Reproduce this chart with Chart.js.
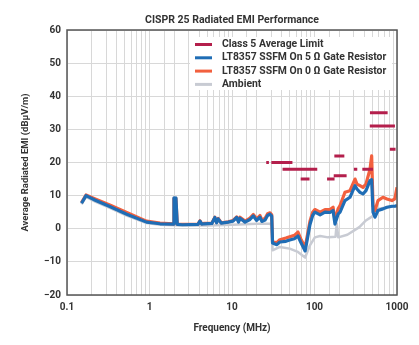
<!DOCTYPE html>
<html>
<head>
<meta charset="utf-8">
<script src="https://cdn.jsdelivr.net/npm/chart.js@4.4.1/dist/chart.umd.min.js"></script>
<style>
  html, body { margin: 0; padding: 0; background: #fff; }
</style>
</head>
<body>
<canvas id="emi" width="419" height="345"></canvas>
<script>
// CISPR 25 radiated EMI (MHz, dBuV/m)
const freqMHz = [0.15, 0.17, 0.22, 0.33, 0.53, 0.92, 1.34, 1.93,
  1.98, 2.04, 2.09, 2.17, 2.5,
  3.87, 4.09, 4.3, 4.6, 5.7,
  6.2, 6.5, 6.8, 7.4, 9.0,
  10.3, 11.4, 12.0, 12.5, 14.4,
  16.5, 18.1, 19.9, 21.8, 23.0,
  25.1, 27.0, 28.9, 30.3, 31.0,
  35, 38, 45, 50, 57,
  63, 68, 77, 82, 88,
  95, 101, 117, 134, 154,
  168, 177, 193, 204, 234,
  269, 310, 327, 356, 387,
  421, 471, 493, 512, 541,
  588, 676, 756, 869, 940,
  1000];

const gate5Ohm = [7.7, 10, 8.6, 6.7, 4.4, 2.0, 1.5, 1.4,
  9.3, 7.5, 9.3, 1.3, 1.2,
  1.3, 2.3, 1.4, 1.5, 1.6,
  3.4, 1.8, 3.0, 1.7, 2.0,
  2.3, 3.4, 2.0, 3.2, 2.0,
  2.8, 3.9, 2.5, 3.5, 2.2,
  2.6, 4.0, 4.4, 3.8, -4.3,
  -4.8, -4.0, -3.8, -3.4, -3.0,
  -2.2, -4.0, -6.7, -3.0, 1.2,
  4.0, 5.0, 4.2, 5.0, 4.9,
  5.5, 1.4, 4.4, 5.0, 8.5,
  9.5, 13.0, 12.0, 11.0, 10.5,
  11.5, 14.5, 14.8, 5.0, 3.5,
  5.5, 6.0, 6.5, 6.8, 6.8,
  7.0];

const gate0Ohm = [7.9, 10.2, 9.0, 7.2, 4.9, 2.3, 1.7, 1.5,
  9.2, 7.5, 9.2, 1.4, 1.3,
  1.4, 2.4, 1.5, 1.6, 1.7,
  3.5, 1.9, 3.1, 1.8, 2.1,
  2.5, 3.6, 2.2, 3.5, 2.3,
  3.2, 4.3, 3.0, 4.0, 2.7,
  3.1, 4.5, 4.8, 4.2, -4.0,
  -4.2, -3.3, -2.8, -2.4, -2.0,
  -1.0, -3.0, -5.6, -2.0, 2.2,
  5.0, 5.8, 5.0, 5.8, 5.8,
  6.5, 2.5, 6.0, 7.0, 11.0,
  11.5, 15.0, 13.5, 13.0, 12.5,
  13.5, 18.0, 22.0, 7.0, 5.5,
  8.5, 9.5, 9.0, 8.5, 9.0,
  12.5];

const ambientFreq = [0.15, 0.17, 0.22, 0.33, 0.53, 0.92, 1.34, 2.5, 5, 10,
  20, 28.9, 30.3, 31.0, 38, 50, 63, 77, 88, 101,
  117, 146, 180, 186, 194, 250, 350, 420, 512, 541,
  588, 756, 1000];
const ambient = [7.4, 9.6, 8.2, 6.3, 4.0, 1.7, 1.2, 1.0, 1.0, 1.2,
  1.5, 1.5, 1.0, -6.5, -5.5, -6.0, -7.0, -8.7, -5.0, -2.6,
  -2.2, -2.6, -2.4, 1.6, -2.6, -1.8, 0.5, 2.5, 3.9, 5.5,
  6.0, 6.5, 6.8];

// Class 5 average limit bands
const limitStart = [26, 30, 41, 68, 142, 171, 174, 300, 380, 468, 470, 820];
const limitStop  = [28, 54, 108, 87, 175, 245, 230, 330, 512, 944, 770, 960];
const limitLevel = [20, 20, 18, 15, 15, 16, 22, 18, 18, 31, 35, 24];

const xTickLabels = [0.1, 1, 10, 100, 1000];

const limitPoints = [];
limitStart.forEach((f, i) => {
  limitPoints.push({ x: f, y: limitLevel[i] });
  limitPoints.push({ x: limitStop[i], y: limitLevel[i] });
  limitPoints.push({ x: limitStop[i], y: null });
});

const zip = (xs, ys) => xs.map((x, i) => ({ x, y: ys[i] }));

const FONT = "Roboto, 'Noto Sans', sans-serif";
const TEXT = "#333";

// white legend box drawn inside the plot area
const legendInside = {
  id: "legendInside",
  beforeDatasetsDraw(chart) {
    const ctx = chart.ctx;
    ctx.save();
    ctx.fillStyle = "#fff";
    ctx.fillRect(190, 37, 202, 53);
    ctx.font = "bold 10.4px " + FONT;
    ctx.textBaseline = "middle";
    chart.data.datasets.forEach((ds, i) => {
      const y = 44.5 + i * 13.3;
      ctx.strokeStyle = ds.borderColor;
      ctx.lineWidth = 3;
      ctx.beginPath();
      ctx.moveTo(195, y);
      ctx.lineTo(212, y);
      ctx.stroke();
      ctx.fillStyle = TEXT;
      ctx.fillText(ds.label, 222, y);
    });
    ctx.restore();
  }
};

// dark frame round the plot
const frame = {
  id: "frame",
  afterDraw(chart) {
    const a = chart.chartArea, ctx = chart.ctx;
    ctx.save();
    ctx.strokeStyle = "#555";
    ctx.lineWidth = 1.5;
    ctx.strokeRect(a.left, a.top, a.right - a.left, a.bottom - a.top);
    ctx.restore();
  }
};

new Chart(document.getElementById("emi"), {
  type: "line",
  data: {
    datasets: [
      { label: "Class 5 Average Limit", data: limitPoints, borderColor: "#b41f4c",
        borderWidth: 3, borderCapStyle: "butt", spanGaps: false },
      { label: "LT8357 SSFM On 5 \u03A9 Gate Resistor", data: zip(freqMHz, gate5Ohm),
        borderColor: "#1f6db5", borderWidth: 3.2 },
      { label: "LT8357 SSFM On 0 \u03A9 Gate Resistor", data: zip(freqMHz, gate0Ohm),
        borderColor: "#f2603e", borderWidth: 3.2 },
      { label: "Ambient", data: zip(ambientFreq, ambient),
        borderColor: "#c8cbd3", borderWidth: 2.5 }
    ].map(ds => ({ ...ds, xAxisID: "x", yAxisID: "y" }))
  },
  options: {
    responsive: false,
    animation: false,
    events: [],
    elements: { point: { radius: 0 }, line: { tension: 0, borderJoinStyle: "round" } },
    layout: { padding: { left: 0, right: 22, top: 0, bottom: 0 } },
    plugins: {
      legend: { display: false },
      tooltip: { enabled: false },
      title: { display: false }
    },
    scales: {
      x: {
        type: "logarithmic",
        position: "bottom",
        min: 0.1,
        max: 1000,
        afterFit: s => { s.height = 50; },
        border: { display: false },
        grid: { color: "#d8d8d8", drawTicks: false },
        ticks: {
          autoSkip: false,
          maxRotation: 0,
          padding: 6,
          color: TEXT,
          font: { family: FONT, size: 10, weight: "bold" },
          callback: v => xTickLabels.some(t => Math.abs(t - v) < 1e-9) ? String(v) : ""
        },
        title: {
          display: true,
          text: "Frequency (MHz)",
          color: TEXT,
          font: { family: FONT, size: 10, weight: "bold" },
          padding: { top: 0, bottom: 11 }
        }
      },
      y: {
        position: "left",
        min: -20,
        max: 60,
        afterFit: s => { s.width = 67; },
        border: { display: false },
        grid: { color: "#d8d8d8", drawTicks: false },
        ticks: {
          stepSize: 10,
          padding: 6,
          color: TEXT,
          font: { family: FONT, size: 10, weight: "bold" },
          callback: v => v < 0 ? "\u2212" + Math.abs(v) : String(v)
        },
        title: {
          display: true,
          text: "Average Radiated EMI (dB\u00B5V/m)",
          color: TEXT,
          font: { family: FONT, size: 9.5, weight: "bold" },
          padding: { top: 20, bottom: 0 }
        }
      },
      // top axis only carries the chart title, centred over the plot
      top: {
        type: "linear",
        position: "top",
        min: 0,
        max: 1,
        afterFit: s => { s.height = 30; },
        border: { display: false },
        grid: { display: false },
        ticks: { display: false },
        title: {
          display: true,
          text: "CISPR 25 Radiated EMI Performance",
          color: TEXT,
          font: { family: FONT, size: 10.5, weight: "bold" },
          padding: { top: 14, bottom: 0 }
        }
      }
    }
  },
  plugins: [legendInside, frame]
});
</script>
</body>
</html>
